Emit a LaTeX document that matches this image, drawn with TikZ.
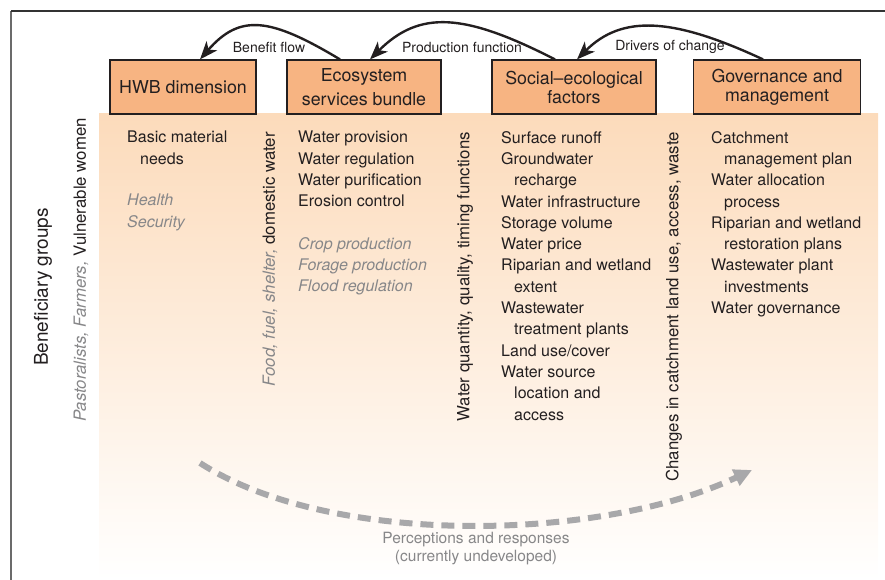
\documentclass[tikz,border=0pt]{standalone}
\usepackage{fontspec}
\setmainfont{TeX Gyre Heros}
\usetikzlibrary{arrows.meta}

\definecolor{boxfill}{RGB}{247,180,130}
\definecolor{panelpeach}{RGB}{252,219,187}
\definecolor{txtgray}{RGB}{135,135,137}
\definecolor{dashgray}{RGB}{168,168,170}
\definecolor{inkblack}{RGB}{35,31,32}

\begin{document}
\begin{tikzpicture}[x=1pt,y=-1pt,
 hdr/.style={draw=inkblack,line width=1.2pt,fill=boxfill,minimum height=54pt,inner sep=0pt,align=center,font=\fontsize{17.8}{19}\selectfont,text=inkblack},
 col/.style={anchor=north west,inner sep=0pt,align=left,font=\fontsize{16}{21.3}\selectfont,text=inkblack},
 colgray/.style={col,text=txtgray,font=\fontsize{16}{21.3}\selectfont\itshape},
 vert/.style={rotate=90,anchor=east,inner sep=0pt,font=\fontsize{16.8}{20}\selectfont,text=inkblack},
 flow/.style={-{Stealth[length=18pt,width=14pt,inset=5pt]},line width=2.4pt,inkblack},
 flowlbl/.style={inner sep=0pt,font=\fontsize{14}{16}\selectfont,text=inkblack},
 perc/.style={dashgray,line width=6pt,dash pattern=on 13pt off 8pt,-{Triangle[length=18pt,width=17pt]}}]

	\useasboundingbox (0,0) rectangle (885,580);
	\shade[top color=panelpeach,bottom color=white] (99,114) rectangle (878,580);
	\draw[line width=2pt,black!58] (11,11) -- (11,580);
	\draw[line width=1.2pt,black!80] (11,11) -- (885,11);

	\node[hdr,minimum width=146pt] (hwb) at (183,87) {HWB dimension};
	\node[hdr,minimum width=154pt,font=\fontsize{17.8}{23.5}\selectfont] (ess) at (364,87) {Ecosystem\\services bundle};
	\node[hdr,minimum width=164pt] (sef) at (574,87) {Social–ecological\\factors};
	\node[hdr,minimum width=167pt] (gov) at (777,87) {Governance and\\management};

	\draw[flow] ([xshift=-24pt]ess.north) .. controls +(-70,-42) and +(40,-46) .. ([xshift=17pt]hwb.north);
	\draw[flow] ([xshift=-19pt]sef.north) .. controls +(-90,-46) and +(50,-50) .. ([xshift=6pt]ess.north);
	\draw[flow] ([xshift=-14pt]gov.north) .. controls +(-90,-42) and +(45,-45) .. ([xshift=3pt]sef.north);
	\node[flowlbl] (benlbl) at (269,47) {Benefit flow};
	\node[flowlbl] (prodlbl) at (462,47) {Production function};
	\node[flowlbl] (drvlbl) at (670,47) {Drivers of change};

	\node[vert,font=\fontsize{19}{22}\selectfont,anchor=center] (bengrp) at (43,287) {Beneficiary groups};
	\node[vert] (groups) at (81,118) {{\color{txtgray}\itshape Pastoralists, Farmers,} Vulnerable women};
	\node[vert] (goods) at (270,132) {{\color{txtgray}\itshape Food, fuel, shelter,} domestic water};
	\node[vert] (funcs) at (465,132) {Water quantity, quality, timing functions};
	\node[vert] (changes) at (674,132) {Changes in catchment land use, access, waste};

	\node[col] (hwbtxt) at (127,131) {Basic material\\\hspace*{13pt}needs};
	\node[colgray] (hwbgray) at (127,194) {Health\\Security};
	\node[col] (esstxt) at (298,131) {Water provision\\Water regulation\\Water purification\\Erosion control};
	\node[colgray] (essgray) at (298,237) {Crop production\\Forage production\\Flood regulation};
	\node[col] (seftxt) at (501,131) {Surface runoff\\Groundwater\\\hspace*{13pt}recharge\\Water infrastructure\\Storage volume\\Water price\\Riparian and wetland\\\hspace*{13pt}extent\\Wastewater\\\hspace*{13pt}treatment plants\\Land use/cover\\Water source\\\hspace*{13pt}location and\\\hspace*{13pt}access};
	\node[col] (govtxt) at (711,131) {Catchment\\\hspace*{13pt}management plan\\Water allocation\\\hspace*{13pt}process\\Riparian and wetland\\\hspace*{13pt}restoration plans\\Wastewater plant\\\hspace*{13pt}investments\\Water governance};

	\coordinate (pstart) at (200,463);
	\coordinate (pend) at (752,470);
	\draw[perc] (pstart) .. controls (330,547) and (600,542) .. (pend);
	\node[inner sep=0pt,align=center,font=\fontsize{15.5}{18}\selectfont,text=txtgray] (perclbl) at (476,549) {Perceptions and responses\\(currently undeveloped)};
\end{tikzpicture}
\end{document}
